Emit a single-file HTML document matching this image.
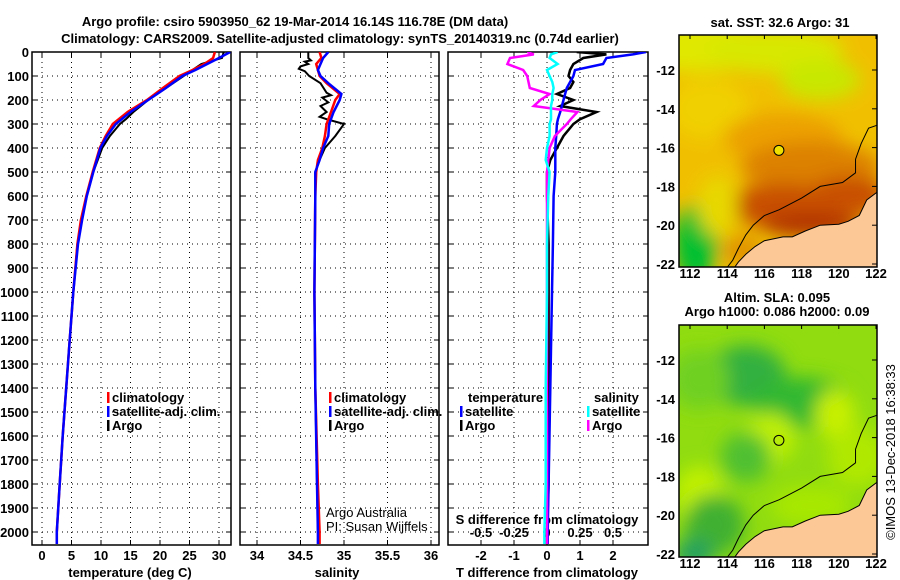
<!DOCTYPE html>
<html><head><meta charset="utf-8">
<style>
html,body{margin:0;padding:0;background:#fff;}
svg{display:block;font-family:"Liberation Sans",Arial,sans-serif;}
.b{font-weight:bold;font-size:13px;}
.t{font-size:13px;}
</style></head>
<body>
<svg id="c" width="900" height="580" viewBox="0 0 900 580" xmlns="http://www.w3.org/2000/svg">
<defs>
<filter id="bl" x="-50%" y="-50%" width="200%" height="200%"><feGaussianBlur stdDeviation="9"/></filter>
<clipPath id="m1c"><rect x="679" y="35" width="198" height="232"/></clipPath>
<clipPath id="m2c"><rect x="679" y="325" width="198" height="232"/></clipPath>
<clipPath id="p1c"><rect x="32" y="52" width="199" height="493"/></clipPath>
<clipPath id="p2c"><rect x="240" y="52" width="199" height="493"/></clipPath>
<clipPath id="p3c"><rect x="448" y="52" width="200" height="493"/></clipPath>
</defs>
<g id="root"></g>
</svg>
<script>
// ---- data ----
const depthT = [0,25,50,75,100,150,200,250,300,350,400,500,600,700,800,1000,1200,1400,1600,1800,2000,2050];
const tempClim = [29.3,29,27.5,25.5,23.3,20.5,17.8,14.5,12,10.8,9.8,8.6,7.5,6.6,6.0,5.3,4.7,4.1,3.5,3.0,2.5,2.5];
const tempSat  = [31.9,30,28,26,23.8,21,18,15,12.5,11,9.9,8.7,7.6,6.8,6.1,5.3,4.7,4.1,3.5,3.0,2.5,2.5];
const depthArgoT = [0,25,50,100,150,200,250,280,300,350,400,500,600,700,800,1000,1200,1400,1600,1800,2000];
const tempArgo = [30.8,30.5,27,24,21,18,15.5,14.2,13.2,11.5,10.2,8.7,7.6,6.7,6.0,5.3,4.7,4.1,3.5,3.0,2.5];

const depthS = [0,25,50,75,100,130,175,200,250,300,350,400,450,500,600,1000,1400,1800,2000,2050];
const salClim = [34.72,34.74,34.68,34.7,34.72,34.8,34.95,34.9,34.85,34.8,34.78,34.75,34.7,34.68,34.67,34.66,34.67,34.7,34.72,34.72];
const salSat  = [34.82,34.76,34.73,34.7,34.73,34.82,34.97,34.95,34.88,34.83,34.82,34.76,34.72,34.67,34.67,34.66,34.67,34.69,34.7,34.7];
const depthArgoS = [0,25,35,40,50,60,70,80,100,130,170,180,190,210,225,250,270,280,300,350,400,450,500,600,1000,1400,1800,2000];
const salArgo = [34.59,34.59,34.62,34.55,34.59,34.5,34.48,34.55,34.6,34.73,34.8,34.85,34.75,34.82,34.73,34.8,34.72,34.8,35.0,34.9,34.78,34.72,34.67,34.67,34.66,34.67,34.69,34.7];

const depthD = [0,10,25,50,75,100,125,150,175,200,225,250,280,300,350,400,450,500,600,800,1000,1400,1800,2000,2050];
const dTsat  = [3.0,2.6,1.8,1.7,0.85,0.8,0.7,0.6,0.55,0.5,0.45,0.4,0.33,0.3,0.28,0.25,0.25,0.25,0.2,0.18,0.15,0.1,0.05,0.02,0.02];
const dTargo = [0.9,1.8,1.1,0.8,0.7,0.65,0.8,0.7,0.3,0.8,0.4,1.5,1.0,0.8,0.5,0.3,0.1,0.0,0.0,0.05,0.05,0.05,0.05,0.0,0.0];
const dSargo = [-0.15,-0.1,-0.28,-0.3,-0.18,-0.15,-0.14,-0.13,0.02,-0.05,-0.1,0.23,0.18,0.15,0.06,0.02,0.01,0.0,0.0,0.0,0.0,0.0,0.0,0.0,0.0];
const dSsat  = [0.08,0.03,0.02,0.08,0.0,0.02,0.04,0.05,0.04,0.04,0.03,0.03,0.03,0.02,0.02,0.0,-0.01,0.02,0.01,0.0,0.0,-0.01,-0.01,-0.02,-0.02];

const depthTicks = [0,100,200,300,400,500,600,700,800,900,1000,1100,1200,1300,1400,1500,1600,1700,1800,1900,2000];
const tTicks = [0,5,10,15,20,25,30];
const sTicks = [34,34.5,35,35.5,36];
const dTTicks = [-2,-1,0,1,2];
const dSTicks = [-0.5,-0.25,0,0.25,0.5];
const latTicks = [-12,-14,-16,-18,-20,-22];
const lonTicks = [112,114,116,118,120,122];
const floatLon = 116.78, floatLat = -16.14;

// ---- scales ----
const Y0=52, PXD=0.24;
const yD = d => Y0 + d*PXD;
const xT = v => 42 + v*5.9;
const xS = v => 257 + (v-34)*87;
const xDT = v => 547 + v*33;
const xDS = v => 547 + v*132;
const mx = lon => 690 + (lon-112)*18.6;
const my1 = lat => 70 + (-12-lat)*19.4;
const my2 = lat => 360 + (-12-lat)*19.4;

const NS="http://www.w3.org/2000/svg";
const root=document.getElementById('root');
function el(tag,attrs,parent,text){const e=document.createElementNS(NS,tag);for(const k in attrs)e.setAttribute(k,attrs[k]);if(text!==undefined)e.textContent=text;(parent||root).appendChild(e);return e;}

function panel(x0,w,name){
  const g=el('g',{});
  
  
  return g;
}
function line(g,xs,ds,xf,color,wd,name,clip){
  const pts=xs.map((v,i)=>xf(v).toFixed(1)+','+yD(ds[i]).toFixed(1)).join(' ');
  const p=el('polyline',{points:pts,fill:'none',stroke:color,'stroke-width':wd,'clip-path':'url(#'+clip+')'},g);
  
  
}
function frame(g,x0,w){
  depthTicks.forEach(d=>{
    el('line',{x1:x0,x2:x0+w,y1:yD(d),y2:yD(d),stroke:'#000','stroke-dasharray':'1,4','stroke-width':1},g);
    el('line',{x1:x0,x2:x0+5,y1:yD(d),y2:yD(d),stroke:'#000'},g);
    el('line',{x1:x0+w-5,x2:x0+w,y1:yD(d),y2:yD(d),stroke:'#000'},g);
  });
  el('rect',{x:x0,y:52,width:w,height:493,fill:'none',stroke:'#000','stroke-width':1.5},g);
}
function vgrid(g,ticks,xf){
  ticks.forEach(t=>{
    el('line',{x1:xf(t),x2:xf(t),y1:52,y2:545,stroke:'#000','stroke-dasharray':'1,4'},g);
    el('line',{x1:xf(t),x2:xf(t),y1:540,y2:545,stroke:'#000'},g);
    el('line',{x1:xf(t),x2:xf(t),y1:52,y2:57,stroke:'#000'},g);
  });
}

let t1=el('text',{x:295,y:26,'text-anchor':'middle',class:'b','font-size':'14'},root,'Argo profile: csiro 5903950_62 19-Mar-2014 16.14S 116.78E (DM data)');


let t2=el('text',{x:340,y:43,'text-anchor':'middle',class:'b','font-size':'14'},root,'Climatology: CARS2009. Satellite-adjusted climatology: synTS_20140319.nc (0.74d earlier)');



const g1=panel(32,199,'temperature-panel');
vgrid(g1,tTicks,xT);
frame(g1,32,199);
depthTicks.forEach(d=>{const e=el('text',{x:29,y:yD(d)+5,'text-anchor':'end',class:'b'},g1,String(d));});
tTicks.forEach(t=>{const e=el('text',{x:xT(t),y:560,'text-anchor':'middle',class:'b'},g1,String(t));});
let xl1=el('text',{x:130,y:577,'text-anchor':'middle',class:'b'},g1,'temperature (deg C)');

line(g1,tempArgo,depthArgoT,xT,'#000',2,'temperature-argo-line','p1c');
line(g1,tempClim,depthT,xT,'#f00',2.5,'temperature-climatology-line','p1c');
line(g1,tempSat,depthT,xT,'#00f',2.5,'temperature-satellite-line','p1c');

function legend(g,x,y,items){
  items.forEach((it,i)=>{
    el('rect',{x:x,y:y+i*14-10,width:2.5,height:11,fill:it[1]},g);
    const e=el('text',{x:x+5,y:y+i*14,class:'b'},g,it[0]);
    
    
  });
}
legend(g1,107,402,[['climatology','#f00'],['satellite-adj. clim.','#00f'],['Argo','#000']]);

const g2=panel(240,199,'salinity-panel');
vgrid(g2,sTicks,xS);
frame(g2,240,199);
sTicks.forEach(t=>{const e=el('text',{x:xS(t),y:560,'text-anchor':'middle',class:'b'},g2,String(t));});
let xl2=el('text',{x:337,y:577,'text-anchor':'middle',class:'b'},g2,'salinity');

line(g2,salArgo,depthArgoS,xS,'#000',2,'salinity-argo-line','p2c');
line(g2,salClim,depthS,xS,'#f00',2.5,'salinity-climatology-line','p2c');
line(g2,salSat,depthS,xS,'#00f',2.5,'salinity-satellite-line','p2c');
legend(g2,329,402,[['climatology','#f00'],['satellite-adj. clim.','#00f'],['Argo','#000']]);
let cr1=el('text',{x:326,y:517,class:'t','font-size':'12'},g2,'Argo Australia');

let cr2=el('text',{x:326,y:531,class:'t','font-size':'12'},g2,'PI: Susan Wijffels');


const g3=panel(448,200,'difference-panel');
vgrid(g3,dTTicks,xDT);
frame(g3,448,200);
dTTicks.forEach(t=>{const e=el('text',{x:xDT(t),y:560,'text-anchor':'middle',class:'b'},g3,String(t));});
dSTicks.forEach(t=>{const e=el('text',{x:xDS(t),y:537,'text-anchor':'middle',class:'b'},g3,String(t));});
let xl3=el('text',{x:547,y:577,'text-anchor':'middle',class:'b'},g3,'T difference from climatology');

let xl3b=el('text',{x:547,y:524,'text-anchor':'middle',class:'b'},g3,'S difference from climatology');

line(g3,dTargo,depthD,xDT,'#000',2.5,'t-diff-argo-line','p3c');
line(g3,dTsat,depthD,xDT,'#00f',2.5,'t-diff-satellite-line','p3c');
line(g3,dSargo,depthD,xDS,'#f0f',2.5,'s-diff-argo-line','p3c');
line(g3,dSsat,depthD,xDS,'#0ff',2.5,'s-diff-satellite-line','p3c');
let lt=el('text',{x:468,y:402,class:'b'},g3,'temperature');
let ls=el('text',{x:594,y:402,class:'b'},g3,'salinity');
legend(g3,460,416,[['satellite','#00f'],['Argo','#000']]);
legend(g3,587,416,[['satellite','#0ff'],['Argo','#f0f']]);

const coast=[[122.2,-18.2],[121.5,-18.7],[121.1,-19.5],[120.5,-19.8],[120,-19.95],[119,-20.0],[118.2,-20.3],[117.5,-20.6],[117,-20.6],[116,-20.8],[115.5,-21.1],[115,-21.5],[114.6,-21.9],[114.3,-22.3]];
const contour=[[122.2,-14.8],[121.6,-15],[121.2,-15.8],[120.9,-16.6],[120.9,-17.3],[120.2,-17.8],[119,-18],[118,-18.6],[116.8,-19.2],[116,-19.5],[115.4,-20],[115,-20.5],[114.6,-21.2],[114.3,-21.8],[113.9,-22.3]];

function map(y0,myf,name,blobs,base){
  const g=el('g',{});
  
  
  const cg=el('g',{'clip-path':'url(#'+(y0<100?'m1c':'m2c')+')'},g);
  el('rect',{x:679,y:y0,width:198,height:232,fill:base},cg);
  const bg=el('g',{filter:'url(#bl)'},cg);
  blobs.forEach(b=>el('ellipse',{cx:mx(b[0]),cy:myf(b[1]),rx:b[2],ry:b[3],fill:b[4]},bg));
  const land=coast.map(p=>mx(p[0])+','+myf(p[1])).join(' ')+' '+mx(122.3)+','+myf(-22.5);
  const lp=el('polygon',{points:land,fill:'#fcc896',stroke:'#000','stroke-width':1},cg);
  
  el('polyline',{points:contour.map(p=>mx(p[0])+','+myf(p[1])).join(' '),fill:'none',stroke:'#000','stroke-width':1},cg);
  el('rect',{x:679,y:y0,width:198,height:232,fill:'none',stroke:'#000','stroke-width':1.5},g);
  const fm=el('circle',{cx:mx(floatLon),cy:myf(floatLat),r:5,fill:(y0<100?'#f0e000':'none'),stroke:'#000','stroke-width':1},g);
  
  latTicks.forEach(l=>{
    el('line',{x1:872,x2:877,y1:myf(l),y2:myf(l),stroke:'#000'},g);
    const e=el('text',{x:675,y:myf(l)+5,'text-anchor':'end',class:'b'},g,String(l));
    
  });
  lonTicks.forEach(l=>{
    el('line',{x1:mx(l),x2:mx(l),y1:y0,y2:y0+4,stroke:'#000'},g);
    const e=el('text',{x:mx(l),y:y0+243,'text-anchor':'middle',class:'b'},g,String(l));
    
  });
}
map(35,my1,'sst-map',[
 [112.5,-10.8,70,25,'#e0e800'],[116.5,-11,70,22,'#d8e800'],[119,-12.5,40,20,'#c8e800'],
 [113,-14,40,30,'#f0d000'],[117,-15.5,60,25,'#eca000'],[118.5,-17,70,25,'#dc8000'],
 [117,-19,60,22,'#c85000'],[118.5,-20,50,12,'#b03000'],[120.5,-18.5,40,20,'#c85000'],
 [112.3,-21,22,40,'#00c030'],[113.5,-19,20,30,'#e8d800'],[114.8,-21.3,20,15,'#e09000']
],'#f0c000');
map(325,my2,'sla-map',[
 [115,-12.8,40,30,'#30b040'],[118,-14.2,50,25,'#30b830'],[112.5,-13,30,30,'#70d020'],
 [116.3,-16,25,25,'#c0f000'],[119.8,-14.8,20,25,'#c8f000'],[115,-17,25,25,'#50c030'],
 [112.5,-19,25,30,'#c0f000'],[113.3,-20.5,30,30,'#40b030'],[112.2,-22,20,15,'#20a060'],
 [118.5,-19.5,40,20,'#a8e800'],[121,-17,30,30,'#b0e800']
],'#90dc10');
let mt1=el('text',{x:780,y:27,'text-anchor':'middle',class:'b'},root,'sat. SST: 32.6 Argo: 31');

let mt2=el('text',{x:777,y:302,'text-anchor':'middle',class:'b'},root,'Altim. SLA: 0.095');

let mt3=el('text',{x:777,y:316,'text-anchor':'middle',class:'b'},root,'Argo h1000: 0.086 h2000: 0.09');

let imos=el('text',{x:0,y:0,transform:'translate(895,452) rotate(-90)','text-anchor':'middle',class:'t','font-size':'13'},root,'©IMOS 13-Dec-2018 16:38:33');

</script>
</body></html>
